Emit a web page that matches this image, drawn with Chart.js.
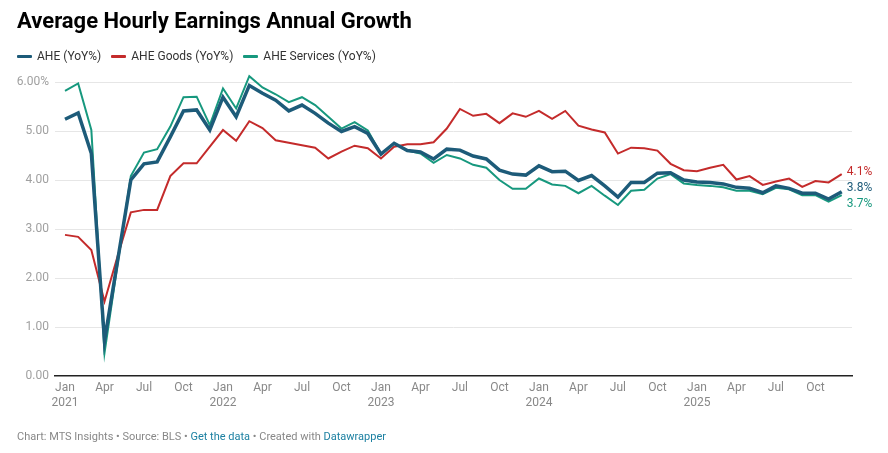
<!DOCTYPE html>
<html>
<head>
<meta charset="utf-8">
<title>Average Hourly Earnings Annual Growth</title>
<script src="https://cdn.jsdelivr.net/npm/chart.js@4.4.1/dist/chart.umd.min.js"></script>
<style>
  body { margin: 0; background: #fff; font-family: Roboto, "Noto Sans", sans-serif; }
  #page { position: relative; width: 888px; height: 453px; overflow: hidden; }
  #title { position: absolute; left: 17px; top: 8px; font-size: 22px; font-weight: 700; color: #000; white-space: nowrap; }
  #legend { position: absolute; left: 17px; top: 49px; display: flex; font-size: 12px; color: #333; }
  #legend .item { display: flex; align-items: center; margin-right: 10px; }
  #legend .mark { width: 15px; height: 3px; margin-right: 5px; border-radius: 1px; }
  #wrap { position: absolute; left: 0; top: 0; width: 888px; height: 453px; }
  #footer { position: absolute; left: 17px; top: 430px; font-size: 11px; color: #888; white-space: nowrap; }
  #footer a { color: #1d81a2; text-decoration: none; }
</style>
</head>
<body>
<div id="page">
  <div id="wrap"><canvas id="earningsChart"></canvas></div>
  <div id="title">Average Hourly Earnings Annual Growth</div>
  <div id="legend"></div>
  <div id="footer">Chart: MTS Insights • Source: BLS • <a href="#">Get the data</a> • Created with <a href="#">Datawrapper</a></div>
</div>
<script>
// monthly, Jan 2021 .. Dec 2025
const ahe = [
  5.24, 5.37, 4.54, 0.72, 2.36, 4.00, 4.33, 4.37, 4.88, 5.41, 5.43, 5.02,
  5.69, 5.29, 5.93, 5.77, 5.63, 5.41, 5.53, 5.36, 5.16, 4.99, 5.09, 4.95,
  4.53, 4.75, 4.60, 4.57, 4.43, 4.63, 4.61, 4.49, 4.43, 4.20, 4.12, 4.10,
  4.29, 4.17, 4.18, 3.99, 4.09, 3.88, 3.65, 3.95, 3.95, 4.14, 4.15, 4.00,
  3.96, 3.95, 3.92, 3.85, 3.83, 3.74, 3.88, 3.83, 3.73, 3.73, 3.61, 3.76
];
const aheGoods = [
  2.88, 2.84, 2.57, 1.52, 2.45, 3.34, 3.39, 3.39, 4.08, 4.34, 4.34, 4.68,
  5.02, 4.80, 5.20, 5.06, 4.81, 4.76, 4.71, 4.66, 4.44, 4.58, 4.70, 4.65,
  4.44, 4.68, 4.73, 4.73, 4.77, 5.05, 5.45, 5.31, 5.35, 5.16, 5.36, 5.29,
  5.41, 5.25, 5.41, 5.11, 5.03, 4.97, 4.54, 4.66, 4.65, 4.60, 4.33, 4.20,
  4.18, 4.25, 4.31, 4.01, 4.08, 3.90, 3.97, 4.03, 3.86, 3.98, 3.95, 4.12
];
const aheServices = [
  5.82, 5.97, 5.02, 0.47, 2.30, 4.08, 4.56, 4.63, 5.09, 5.69, 5.70, 5.12,
  5.87, 5.46, 6.12, 5.89, 5.75, 5.59, 5.69, 5.53, 5.29, 5.05, 5.18, 5.01,
  4.53, 4.75, 4.60, 4.54, 4.35, 4.51, 4.44, 4.31, 4.25, 4.00, 3.82, 3.82,
  4.03, 3.91, 3.88, 3.73, 3.88, 3.68, 3.49, 3.78, 3.80, 4.03, 4.12, 3.93,
  3.90, 3.88, 3.85, 3.78, 3.78, 3.71, 3.84, 3.81, 3.69, 3.69, 3.56, 3.69
];

const seriesNames = ["AHE (YoY%)", "AHE Goods (YoY%)", "AHE Services (YoY%)"];
const seriesColors = ["#1d5b79", "#c42b2b", "#17987e"];

// x ticks every quarter (index of month from Jan 2021)
const tickIdx = [0, 3, 6, 9, 12, 15, 18, 21, 24, 27, 30, 33, 36, 39, 42, 45, 48, 51, 54, 57];
const tickLabels = [
  ["Jan", "2021"], "Apr", "Jul", "Oct",
  ["Jan", "2022"], "Apr", "Jul", "Oct",
  ["Jan", "2023"], "Apr", "Jul", "Oct",
  ["Jan", "2024"], "Apr", "Jul", "Oct",
  ["Jan", "2025"], "Apr", "Jul", "Oct"
];

const toPoints = arr => arr.map((v, i) => ({ x: i, y: v }));

// legend
const legend = document.getElementById("legend");
seriesNames.forEach((name, i) => {
  const item = document.createElement("div");
  item.className = "item";
  item.innerHTML = `<span class="mark" style="background:${seriesColors[i]}"></span>${name}`;
  legend.appendChild(item);
});

// value labels at the end of each line, nudged apart so they don't overlap
const endLabels = {
  id: "endLabels",
  afterDatasetsDraw(chart) {
    const ctx = chart.ctx;
    const items = chart.data.datasets.map((ds, i) => {
      const pts = chart.getDatasetMeta(i).data;
      const last = pts[pts.length - 1];
      const val = ds.data[ds.data.length - 1].y;
      return { x: last.x, y: last.y, text: val.toFixed(1) + "%", color: seriesColors[i] };
    }).sort((a, b) => a.y - b.y);

    const gap = 16;
    for (let pass = 0; pass < 10; pass++) {
      for (let k = 1; k < items.length; k++) {
        const d = items[k].y - items[k - 1].y;
        if (d < gap) {
          const push = (gap - d) / 2;
          items[k - 1].y -= push;
          items[k].y += push;
        }
      }
    }

    ctx.save();
    ctx.font = "12px Roboto";
    ctx.textBaseline = "middle";
    ctx.textAlign = "left";
    items.forEach(it => {
      ctx.fillStyle = it.color;
      ctx.fillText(it.text, it.x + 5, it.y + 1);
    });
    ctx.restore();
  }
};

const datasets = [ahe, aheGoods, aheServices].map((arr, i) => ({
  label: seriesNames[i],
  data: toPoints(arr),
  borderColor: seriesColors[i],
  backgroundColor: seriesColors[i],
  borderWidth: i === 0 ? 3.5 : 2,
  pointRadius: 0,
  tension: 0,
  clip: false
}));

new Chart(document.getElementById("earningsChart"), {
  type: "line",
  data: { datasets },
  plugins: [endLabels],
  options: {
    responsive: true,
    maintainAspectRatio: false,
    animation: false,
    layout: { padding: { left: 0, right: 36, top: 82, bottom: 0 } },
    plugins: {
      legend: { display: false },
      tooltip: { enabled: false }
    },
    scales: {
      x: {
        type: "linear",
        min: -0.76,
        max: 59.78,
        afterFit: s => { s.height = 77; },
        afterBuildTicks: s => { s.ticks = tickIdx.map(v => ({ value: v })); },
        grid: { display: false, drawTicks: false },
        border: { display: true, color: "#222", width: 1.5 },
        ticks: {
          autoSkip: false,
          maxRotation: 0,
          padding: 5,
          color: "#888",
          font: { family: "Roboto", size: 12 },
          callback: v => tickLabels[tickIdx.indexOf(v)]
        }
      },
      y: {
        min: 0,
        max: 6,
        afterFit: s => { s.width = 55; },
        grid: {
          color: ctx => ctx.tick.value === 0 ? "rgba(0,0,0,0)" : "#e6e6e6",
          lineWidth: 1,
          drawTicks: false
        },
        border: { display: false },
        ticks: {
          stepSize: 1,
          padding: 6,
          color: "#a0a0a0",
          font: { family: "Roboto", size: 12 },
          callback: v => v === 6 ? "6.00%" : v.toFixed(2)
        }
      }
    }
  }
});
</script>
</body>
</html>
